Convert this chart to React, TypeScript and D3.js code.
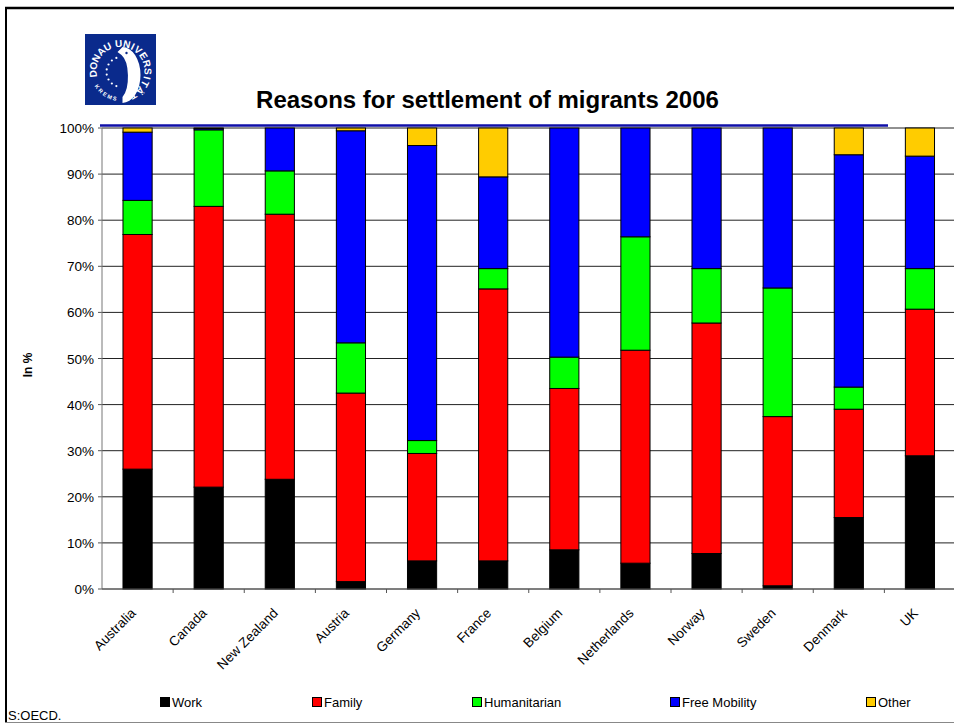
import React from "react";
import * as d3 from "d3";

const categories = ["Australia", "Canada", "New Zealand", "Austria", "Germany", "France", "Belgium", "Netherlands", "Norway", "Sweden", "Denmark", "UK"];
const seriesNames = ["Work", "Family", "Humanitarian", "Free Mobility", "Other"];
const seriesColors = ["#000000", "#ff0000", "#00ff00", "#0000ff", "#ffcc00"];
const work = [26.0, 22.1, 23.8, 1.6, 6.1, 6.1, 8.5, 5.6, 7.7, 0.7, 15.5, 28.9];
const family = [50.9, 60.9, 57.5, 40.9, 23.3, 59.0, 35.0, 46.2, 50.0, 36.7, 23.5, 31.8];
const humanitarian = [7.4, 16.6, 9.4, 10.9, 2.8, 4.4, 6.8, 24.6, 11.8, 27.9, 4.8, 8.8];
const freeMobility = [14.8, 0.3, 9.3, 46.0, 64.0, 19.9, 49.7, 23.6, 30.5, 34.7, 50.4, 24.4];
const other = [0.9, 0.1, 0.0, 0.6, 3.8, 10.6, 0.0, 0.0, 0.0, 0.0, 5.8, 6.1];
const yTicks = [0, 10, 20, 30, 40, 50, 60, 70, 80, 90, 100];
const logoTop = "DONAU UNIVERSITÄT";
const logoBottom = "KREMS";

const W = 954, H = 725;
const M = { left: 102, right: 955.5, top: 128, bottom: 589 };
const FONT = "'Liberation Sans', Arial, sans-serif";
const LOGO_BLUE = "#0a2a8c";

function arcPt(cx: number, cy: number, r: number, deg: number) {
  const a = (deg * Math.PI) / 180;
  return [cx + r * Math.sin(a), cy - r * Math.cos(a)];
}

export default function App() {
  const table = categories.map((c, i) => ({
    cat: c,
    Work: work[i],
    Family: family[i],
    Humanitarian: humanitarian[i],
    "Free Mobility": freeMobility[i],
    Other: other[i],
  }));
  const stacked = d3.stack<any>().keys(seriesNames)(table);
  const x = d3.scaleBand().domain(categories).range([M.left, M.right]).paddingInner(0.59).paddingOuter(0.295);
  const xb = d3.scaleBand().domain(categories).range([M.left, M.right]);
  const y = d3.scaleLinear().domain([0, 100]).range([M.bottom, M.top]);

  const legendX = [160, 312, 472, 670, 866];
  const cx = 120.5, cy = 71;

  // angles for top ring letters
  const topAngles: number[] = [];
  let ang = -96;
  for (let i = 0; i < logoTop.length; i++) {
    topAngles.push(ang);
    const ch = logoTop[i];
    const nxt = logoTop[i + 1];
    ang += ch === " " || nxt === " " ? 12 : ch === "I" || nxt === "I" ? 13.5 : 17;
  }

  return (
    <svg width={W} height={H} style={{ position: "absolute", left: 0, top: 0, background: "#fff" }} fontFamily={FONT}>
      <rect x={0} y={0} width={W} height={H} fill="#fff" />
      {/* frame */}
      <line x1={5} y1={8} x2={W} y2={8} stroke="#000" strokeWidth={2.5} />
      <line x1={6} y1={7} x2={6} y2={722} stroke="#000" strokeWidth={2} />
      <line x1={5} y1={722.5} x2={W} y2={722.5} stroke="#888" strokeWidth={1} />

      {/* logo */}
      <g>
        <rect x={85} y={34} width={71} height={71} fill={LOGO_BLUE} />
        {logoTop.split("").map((ch, i) => {
          if (ch === " ") return null;
          const p = arcPt(cx, cy, 24, topAngles[i]);
          return (
            <text key={i} x={p[0]} y={p[1]} textAnchor="middle" fill="#fff" fontSize={10} fontWeight="bold" transform={`rotate(${topAngles[i]} ${p[0]} ${p[1]})`}>
              {ch}
            </text>
          );
        })}
        {logoBottom.split("").map((ch, i) => {
          const a = 236 - i * 11;
          const p = arcPt(cx, cy, 30, a);
          return (
            <text key={i} x={p[0]} y={p[1]} textAnchor="middle" fill="#fff" fontSize={5.5} fontWeight="bold" transform={`rotate(${a - 180} ${p[0]} ${p[1]})`}>
              {ch}
            </text>
          );
        })}
        {d3.range(8).map((k) => {
          const p = arcPt(cx + 1, cy + 1, 15, -20 - k * 20);
          return <circle key={k} cx={p[0]} cy={p[1]} r={1.1} fill="#fff" />;
        })}
        <path
          d={`M ${cx + 2} ${cy - 24} A 18 28 0 0 1 ${cx + 2} ${cy + 32} L ${cx + 2} ${cy + 26} A 10 23 0 0 0 ${cx + 1} ${cy - 16} L ${cx - 3} ${cy - 19} Z`}
          fill="#fff"
        />
        <circle cx={cx + 6} cy={cy - 18} r={1.2} fill={LOGO_BLUE} />
      </g>

      {/* title */}
      <text x={487.5} y={108} textAnchor="middle" fontSize={24} fontWeight="bold" fill="#000">
        Reasons for settlement of migrants 2006
      </text>

      {/* gridlines */}
      {yTicks.map((t) => (
        <g key={t}>
          <line x1={M.left} x2={W} y1={y(t)} y2={y(t)} stroke={t === 0 ? "#555" : "#222"} strokeWidth={1} />
          <line x1={M.left - 4} x2={M.left} y1={y(t)} y2={y(t)} stroke="#555" />
          <text x={M.left - 8} y={y(t) + 5} textAnchor="end" fontSize={13.5} fill="#000">
            {t}%
          </text>
        </g>
      ))}
      <line x1={M.left} x2={M.left} y1={M.top} y2={M.bottom} stroke="#777" />

      {/* bars */}
      {stacked.map((s, si) => (
        <g key={s.key}>
          {s.map((d, i) =>
            d[1] - d[0] > 0 ? (
              <rect
                key={i}
                x={x(categories[i])}
                y={y(d[1])}
                width={x.bandwidth()}
                height={y(d[0]) - y(d[1])}
                fill={seriesColors[si]}
                stroke="#000"
                strokeWidth={1}
              />
            ) : null
          )}
        </g>
      ))}

      {/* blue line under title */}
      <line x1={100} x2={888} y1={125.5} y2={125.5} stroke="#1010a8" strokeWidth={2.5} />

      {/* x ticks */}
      {categories.map((c) => (
        <line key={c} x1={xb(c)! + xb.bandwidth()} x2={xb(c)! + xb.bandwidth()} y1={M.bottom} y2={M.bottom + 4} stroke="#555" />
      ))}
      <line x1={M.left} x2={W} y1={M.bottom} y2={M.bottom} stroke="#555" />
      {categories.map((c) => {
        const px = xb(c)! + xb.bandwidth() / 2 - 1;
        const py = M.bottom + 25;
        return (
          <text key={c} x={px} y={py} textAnchor="end" fontSize={13.5} fill="#000" transform={`rotate(-45 ${px} ${py})`}>
            {c}
          </text>
        );
      })}

      {/* y label */}
      <text x={32} y={365} textAnchor="middle" fontSize={12} fontWeight="bold" transform="rotate(-90 32 365)">
        In %
      </text>

      {/* legend */}
      {seriesNames.map((n, i) => (
        <g key={n}>
          <rect x={legendX[i] + 0.5} y={697.5} width={9} height={9} fill={seriesColors[i]} stroke="#000" />
          <text x={legendX[i] + 12} y={707} fontSize={13} fill="#000">
            {n}
          </text>
        </g>
      ))}
      <text x={8} y={720} fontSize={13} fill="#000">
        S:OECD.
      </text>
    </svg>
  );
}
